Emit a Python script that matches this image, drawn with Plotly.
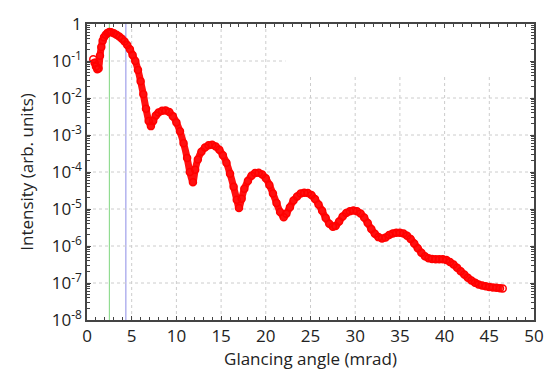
import plotly.graph_objects as go

# Glancing angle (mrad) and log10 of intensity
angle_mrad = [0.7, 0.85, 1.0, 1.15, 1.3, 1.45, 1.6, 1.75, 1.9, 2.1, 2.3, 2.5, 2.7, 3.0, 3.3, 3.6, 3.9,
              4.2, 4.5, 4.8, 5.1, 5.4, 5.7, 6.0, 6.3, 6.6, 6.9, 7.15, 7.4, 7.7, 8.0, 8.4, 8.8, 9.2,
              9.6, 10.0, 10.4, 10.8, 11.2, 11.5, 11.85, 12.1, 12.4, 12.8, 13.2, 13.6, 14.0, 14.4,
              14.8, 15.2, 15.6, 16.0, 16.4, 16.75, 17.0, 17.3, 17.6, 18.0, 18.4, 18.8, 19.2, 19.6,
              20.0, 20.4, 20.8, 21.2, 21.6, 22.0, 22.3, 22.7, 23.1, 23.5, 23.9, 24.3, 24.7, 25.1,
              25.5, 25.9, 26.3, 26.7, 27.1, 27.5, 27.8, 28.2, 28.6, 29.0, 29.4, 29.8, 30.2, 30.6,
              31.0, 31.4, 31.8, 32.2, 32.6, 33.0, 33.4, 33.8, 34.2, 34.6, 35.0, 35.4, 35.8, 36.2,
              36.6, 37.0, 37.4, 37.8, 38.2, 38.6, 39.0, 39.4, 39.8, 40.2, 40.6, 41.0, 41.4, 41.8,
              42.2, 42.6, 43.0, 43.4, 43.8, 44.2, 44.6, 45.0, 45.4, 45.8, 46.2, 46.5]
log_intensity = [-0.95, -1.05, -1.15, -1.22, -1.20, -0.86, -0.62, -0.45, -0.36, -0.29, -0.24, -0.215,
                 -0.22, -0.25, -0.29, -0.34, -0.40, -0.47, -0.57, -0.68, -0.84, -1.0, -1.24, -1.55,
                 -1.9, -2.29, -2.62, -2.76, -2.62, -2.47, -2.39, -2.345, -2.335, -2.38, -2.49, -2.66,
                 -2.9, -3.22, -3.62, -4.0, -4.28, -3.94, -3.66, -3.45, -3.34, -3.28, -3.265, -3.31,
                 -3.40, -3.55, -3.75, -4.05, -4.40, -4.75, -4.97, -4.72, -4.45, -4.24, -4.1, -4.03,
                 -4.02, -4.07, -4.17, -4.35, -4.58, -4.84, -5.08, -5.22, -5.13, -4.95, -4.77, -4.66,
                 -4.58, -4.56, -4.57, -4.62, -4.73, -4.88, -5.05, -5.24, -5.40, -5.48, -5.46, -5.34,
                 -5.2, -5.11, -5.06, -5.04, -5.06, -5.12, -5.23, -5.38, -5.54, -5.67, -5.76, -5.80,
                 -5.77, -5.70, -5.66, -5.64, -5.64, -5.66, -5.72, -5.81, -5.93, -6.06, -6.18, -6.28,
                 -6.33, -6.35, -6.36, -6.36, -6.36, -6.38, -6.43, -6.50, -6.59, -6.68, -6.77, -6.86,
                 -6.93, -6.99, -7.04, -7.07, -7.09, -7.11, -7.12, -7.13, -7.14, -7.15]
intensity = [10 ** v for v in log_intensity]

reference_angles = [2.5, 4.35]
reference_colors = ["#7fd67f", "#8c8ce6"]

x_grid = [5, 10, 15, 20, 25, 30, 35, 40, 45]
y_grid_exp = [-7, -6, -5, -4, -3, -2, -1]
y_tickvals = [10 ** k for k in range(-8, 1)]
y_ticktext = ["10<sup>-%d</sup>" % (-k) for k in range(-8, 0)] + ["1"]
y_minor = [m * 10 ** k for k in range(-8, 0) for m in range(2, 10)]

# region near the top-right where the original figure shows no grid
blank_x_from = 22.2
blank_y_from = 0.04

fig = go.Figure()
fig.add_trace(go.Scatter(
    x=angle_mrad, y=intensity, mode="lines+markers",
    line=dict(color="#ff1010", width=7, shape="spline", smoothing=0.6),
    marker=dict(symbol="circle-open", size=7, color="#ff0000", line=dict(width=1.5)),
    showlegend=False, hoverinfo="skip"))

grid_line = dict(color="#cccccc", width=1, dash="dot")
shapes = []
for gx in x_grid:
    top = 1 if gx < blank_x_from else blank_y_from
    shapes.append(dict(type="line", xref="x", yref="y", x0=gx, x1=gx, y0=1e-8, y1=top,
                       line=grid_line, layer="below"))
for e in y_grid_exp:
    gy = 10 ** e
    right = 50 if gy < blank_y_from else blank_x_from
    shapes.append(dict(type="line", xref="x", yref="y", x0=0, x1=right, y0=gy, y1=gy,
                       line=grid_line, layer="below"))
for a, c in zip(reference_angles, reference_colors):
    shapes.append(dict(type="line", xref="x", yref="paper", x0=a, x1=a, y0=0, y1=1,
                       line=dict(color=c, width=1), layer="below"))

axis_font = dict(family="Open Sans, Lato, sans-serif", size=17, color="#222222")
fig.update_layout(
    width=556, height=378,
    margin=dict(l=87, r=19, t=18, b=51),
    paper_bgcolor="white", plot_bgcolor="white",
    font=axis_font,
    shapes=shapes,
    xaxis=dict(
        range=[0, 50], dtick=5, tick0=0,
        showline=True, linecolor="#444444", linewidth=1.5, mirror="allticks",
        ticks="inside", ticklen=4, tickcolor="#444444",
        minor=dict(dtick=1, ticks="inside", ticklen=3, tickcolor="#444444", showgrid=False),
        showgrid=False, zeroline=False, tickfont=axis_font,
        title=dict(text="Glancing angle (mrad)", font=axis_font, standoff=7),
    ),
    yaxis=dict(
        type="log", range=[-8, 0],
        tickmode="array", tickvals=y_tickvals, ticktext=y_ticktext,
        showline=True, linecolor="#444444", linewidth=1.5, mirror="allticks",
        ticks="inside", ticklen=4, tickcolor="#444444",
        minor=dict(tickmode="array", tickvals=y_minor, ticks="inside", ticklen=3,
                   tickcolor="#444444", showgrid=False),
        showgrid=False, zeroline=False, tickfont=axis_font,
        title=dict(text="Intensity (arb. units)", font=axis_font, standoff=14),
    ),
)

fig.write_html("out.html", config={"displayModeBar": False},
               post_script="document.body.style.margin='0px';document.body.style.overflow='hidden';")
